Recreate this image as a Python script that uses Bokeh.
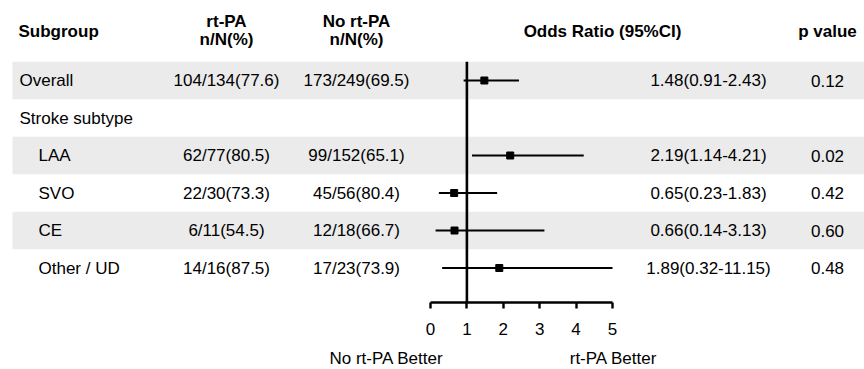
from bokeh.plotting import figure
from bokeh.models import Range1d, LinearAxis, FixedTicker, ColumnDataSource
from bokeh.core.properties import value
from bokeh.embed import file_html
from bokeh.resources import INLINE

# ---------------- data ----------------
subgroups = ["Overall", "Stroke subtype", "LAA", "SVO", "CE", "Other / UD"]
levels = [0, 0, 1, 1, 1, 1]
rtpa = ["104/134(77.6)", "", "62/77(80.5)", "22/30(73.3)", "6/11(54.5)", "14/16(87.5)"]
nortpa = ["173/249(69.5)", "", "99/152(65.1)", "45/56(80.4)", "12/18(66.7)", "17/23(73.9)"]
odds = [1.48, None, 2.19, 0.65, 0.66, 1.89]
lower = [0.91, None, 1.14, 0.23, 0.14, 0.32]
upper = [2.43, None, 4.21, 1.83, 3.13, 11.15]
p_values = ["0.12", "", "0.02", "0.42", "0.60", "0.48"]
shaded = [True, False, True, False, True, False]
ticks = [0, 1, 2, 3, 4, 5]
null_value = 1
left_label = "No rt-PA Better"
right_label = "rt-PA Better"

# ---------------- layout constants (picture pixels) ----------------
W, H = 864, 369
X0, Y0 = 0, 0
ROW0, ROWH = 80, 37.5
HEADER_Y = 31
AXIS_Y = 302
OR_PX0, OR_PX_PER = 430, 36.4
FONT = value("Liberation Sans")
FS = "17px"

p = figure(width=W, height=H, output_backend="svg", toolbar_location=None,
           x_range=Range1d(X0, X0 + W), y_range=Range1d(Y0 + H, Y0),
           x_axis_location=None, y_axis_location=None, min_border=0,
           outline_line_color=None)
p.extra_x_ranges = {"or": Range1d(start=(X0 - OR_PX0) / OR_PX_PER,
                                  end=(X0 + W - OR_PX0) / OR_PX_PER)}
p.xgrid.visible = False
p.ygrid.visible = False
p.background_fill_color = "white"
p.border_fill_color = "white"

ys = [ROW0 + i * ROWH for i in range(len(subgroups))]

# shaded bands
band_y = [y for y, s in zip(ys, shaded) if s]
p.quad(left=12, right=X0 + W, top=[y - ROWH / 2 for y in band_y],
       bottom=[y + ROWH / 2 for y in band_y], fill_color="#ebebeb", line_color=None)

# text helper
def txt(x, y, t, align="left", bold=False, **kw):
    p.text(x=x, y=y, text=t, text_align=align, text_baseline="middle",
           text_font=FONT, text_font_size=FS, text_color="black",
           text_font_style="bold" if bold else "normal", **kw)

# headers
txt([18], [HEADER_Y], ["Subgroup"], bold=True)
txt([226, 226], [21, 39], ["rt-PA", "n/N(%)"], align="center", bold=True)
txt([356, 356], [21, 39], ["No rt-PA", "n/N(%)"], align="center", bold=True)
txt([602], [HEADER_Y], ["Odds Ratio (95%CI)"], align="center", bold=True)
txt([827], [HEADER_Y], ["p value"], align="center", bold=True)

# table columns
txt([19 + 19 * l for l in levels], ys, subgroups)
txt([226] * len(ys), ys, rtpa, align="center")
txt([356] * len(ys), ys, nortpa, align="center")
or_text = ["" if o is None else f"{o:.2f}({lo:.2f}-{up:.2f})" for o, lo, up in zip(odds, lower, upper)]
txt([708] * len(ys), ys, or_text, align="center")
txt([827] * len(ys), ys, p_values, align="center")

# forest marks
axis_max = max(ticks)
idx = [i for i, o in enumerate(odds) if o is not None]
src = ColumnDataSource(dict(
    y=[ys[i] for i in idx],
    o=[odds[i] for i in idx],
    lo=[lower[i] for i in idx],
    up=[min(upper[i], axis_max) for i in idx],
))
p.segment(x0="lo", x1="up", y0="y", y1="y", source=src, line_color="black",
          line_width=2.2, x_range_name="or")
p.scatter(x="o", y="y", source=src, marker="square", size=7, fill_color="black",
          line_color="black", x_range_name="or")
p.segment(x0=[null_value], x1=[null_value], y0=[ROW0 - ROWH / 2], y1=[AXIS_Y],
          line_color="black", line_width=2.6, x_range_name="or")

# axis
ax = LinearAxis(x_range_name="or", ticker=FixedTicker(ticks=ticks), bounds=(min(ticks), max(ticks)),
                fixed_location=AXIS_Y)
ax.axis_line_width = 2.4
ax.axis_line_color = "black"
ax.major_tick_line_width = 2.4
ax.major_tick_line_color = "black"
ax.major_tick_in = 0
ax.major_tick_out = 6
ax.minor_tick_line_color = None
ax.major_label_text_font = "Liberation Sans"
ax.major_label_text_font_size = FS
ax.major_label_text_color = "black"
ax.major_label_standoff = 14
p.add_layout(ax, "below")

# footer labels
txt([386, 613], [358, 358], [left_label, right_label], align="center")

open("out.html", "w").write(file_html(p, INLINE))
